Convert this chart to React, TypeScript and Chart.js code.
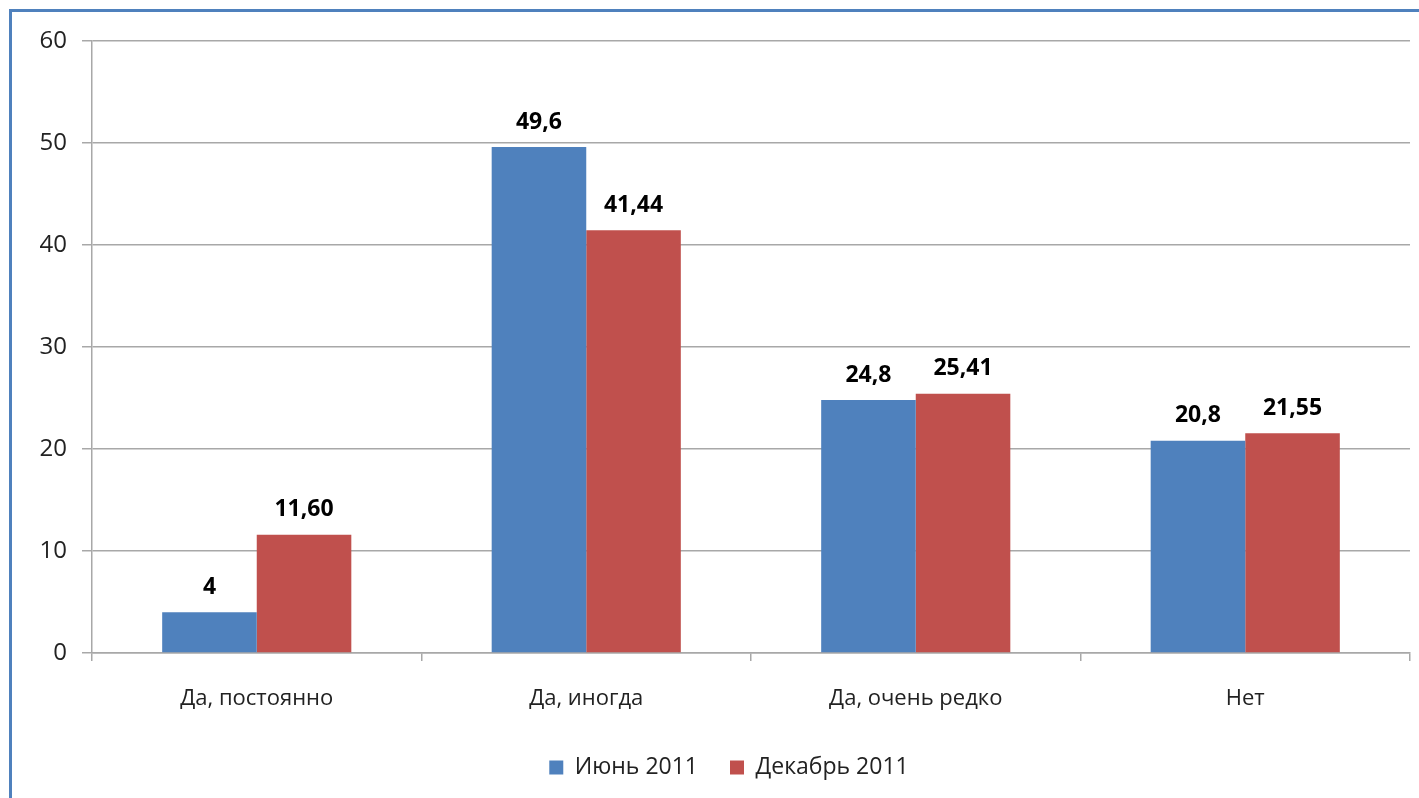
import React, { useEffect, useRef } from "react";
import { Chart, registerables } from "chart.js";

Chart.register(...registerables);

const categories = ["Да, постоянно", "Да, иногда", "Да, очень редко", "Нет"];
const seriesNames = ["Июнь 2011", "Декабрь 2011"];
const june = [4, 49.6, 24.8, 20.8];
const december = [11.6, 41.44, 25.41, 21.55];
const juneLabels = ["4", "49,6", "24,8", "20,8"];
const decemberLabels = ["11,60", "41,44", "25,41", "21,55"];
const yTicks = [0, 10, 20, 30, 40, 50, 60];

const FONT = "'Open Sans', 'Noto Sans', sans-serif";
const GRID = "#A8A8A8";

const dataLabelPlugin = {
  id: "dataLabels",
  afterDatasetsDraw(chart: any) {
    const ctx = chart.ctx;
    const labelSets = [juneLabels, decemberLabels];
    ctx.save();
    ctx.font = `bold 23px ${FONT}`;
    ctx.fillStyle = "#000";
    ctx.textAlign = "center";
    ctx.textBaseline = "middle";
    chart.data.datasets.forEach((_ds: any, i: number) => {
      const meta = chart.getDatasetMeta(i);
      meta.data.forEach((bar: any, j: number) => {
        ctx.fillText(labelSets[i][j], bar.x, bar.y - 25);
      });
    });
    ctx.restore();
  },
};

const legendShiftPlugin = {
  id: "legendShift",
  afterLayout(chart: any) {
    const lg = chart.legend;
    if (lg) {
      lg.left += 24;
      lg.right += 24;
    }
  },
};

export default function App() {
  const ref = useRef<HTMLCanvasElement>(null);
  useEffect(() => {
    if (!ref.current) return;
    const chart = new Chart(ref.current, {
      type: "bar",
      data: {
        labels: categories,
        datasets: [
          { label: seriesNames[0], data: june, backgroundColor: "#4F81BD" },
          { label: seriesNames[1], data: december, backgroundColor: "#C0504D" },
        ],
      },
      options: {
        animation: false,
        responsive: false,
        layout: { padding: { left: 0, top: 41, right: 9, bottom: 9 } },
        datasets: { bar: { barPercentage: 1, categoryPercentage: 0.574 } },
        plugins: {
          legend: {
            position: "bottom",
            labels: {
              boxWidth: 14,
              boxHeight: 14,
              padding: 32,
              color: "#222",
              font: { family: FONT, size: 23 },
            },
          },
          tooltip: { enabled: false },
        },
        scales: {
          x: {
            afterFit: (s: any) => {
              s.height = 71;
            },
            grid: {
              offset: true,
              drawOnChartArea: false,
              drawTicks: true,
              tickLength: 8,
              color: GRID,
              lineWidth: 1.5,
            },
            border: { color: GRID, width: 1.5 },
            ticks: {
              padding: 25,
              color: "#222",
              font: { family: FONT, size: 22 },
            },
          },
          y: {
            min: 0,
            max: 60,
            afterFit: (s: any) => {
              s.width = 92;
            },
            afterBuildTicks: (s: any) => {
              s.ticks = yTicks.map((v) => ({ value: v }));
            },
            grid: { color: GRID, tickLength: 10, lineWidth: 1.5 },
            border: { color: GRID, width: 1.5 },
            ticks: {
              padding: 15,
              color: "#222",
              font: { family: FONT, size: 24 },
            },
          },
        },
      },
      plugins: [dataLabelPlugin, legendShiftPlugin],
    } as any);
    return () => chart.destroy();
  }, []);

  return (
    <div style={{ position: "fixed", left: 0, top: 0, width: 1419, height: 798, background: "#fff", overflow: "hidden" }}>
      <div
        style={{
          position: "absolute",
          left: 9,
          top: 9,
          width: 1430,
          height: 810,
          borderLeft: "3px solid #4F81BD",
          borderTop: "3px solid #4F81BD",
        }}
      />
      <canvas ref={ref} width={1419} height={798} style={{ position: "absolute", left: 0, top: 0, display: "block" }} />
    </div>
  );
}
